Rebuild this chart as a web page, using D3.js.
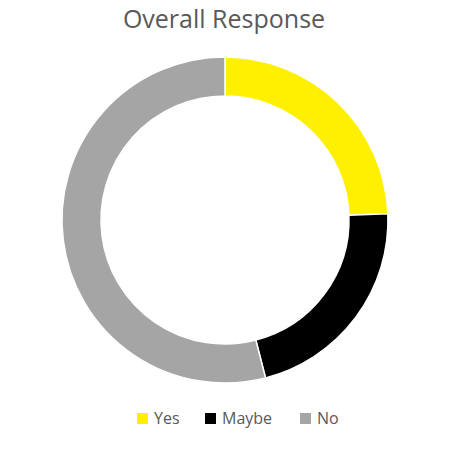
<!DOCTYPE html>
<html>
<head>
<meta charset="utf-8">
<script src="https://cdn.jsdelivr.net/npm/d3@7"></script>
<style>
  body { margin: 0; background: #fff; }
</style>
</head>
<body>
<script>
// chart data
var categories = ["Yes", "Maybe", "No"];
var values = [24.4, 21.6, 54.0];
var colors = ["#FFF000", "#000000", "#A5A5A5"];

var w = 450, h = 450;
var cx = 225, cy = 220;
var outerR = 163, innerR = 124;

var svg = d3.select("body")
    .append("svg")
    .attr("width", w)
    .attr("height", h);

svg.append("text")
    .attr("x", 224)
    .attr("y", 28)
    .attr("text-anchor", "middle")
    .attr("font-family", "'Open Sans', sans-serif")
    .attr("font-size", "25px")
    .attr("fill", "#595959")
    .text("Overall Response");

var pie = d3.pie().sort(null).value(function(d) { return d; });
var arc = d3.arc().innerRadius(innerR).outerRadius(outerR);

var color = d3.scaleOrdinal().domain(categories).range(colors);

svg.append("g")
    .attr("transform", "translate(" + cx + "," + cy + ")")
    .selectAll("path")
    .data(pie(values))
    .enter()
    .append("path")
    .attr("d", arc)
    .attr("fill", function(d, i) { return color(categories[i]); })
    .attr("stroke", "#fff")
    .attr("stroke-width", 1.5);

// legend
var legendX = [137, 205, 300];
var legend = svg.selectAll(".legend")
    .data(categories)
    .enter()
    .append("g")
    .attr("transform", function(d, i) { return "translate(" + legendX[i] + ",413)"; });

legend.append("rect")
    .attr("width", 11)
    .attr("height", 11)
    .attr("fill", function(d) { return color(d); });

legend.append("text")
    .attr("x", 17)
    .attr("y", 11)
    .attr("font-family", "'Open Sans', sans-serif")
    .attr("font-size", "16px")
    .attr("fill", "#595959")
    .text(function(d) { return d; });
</script>
</body>
</html>
